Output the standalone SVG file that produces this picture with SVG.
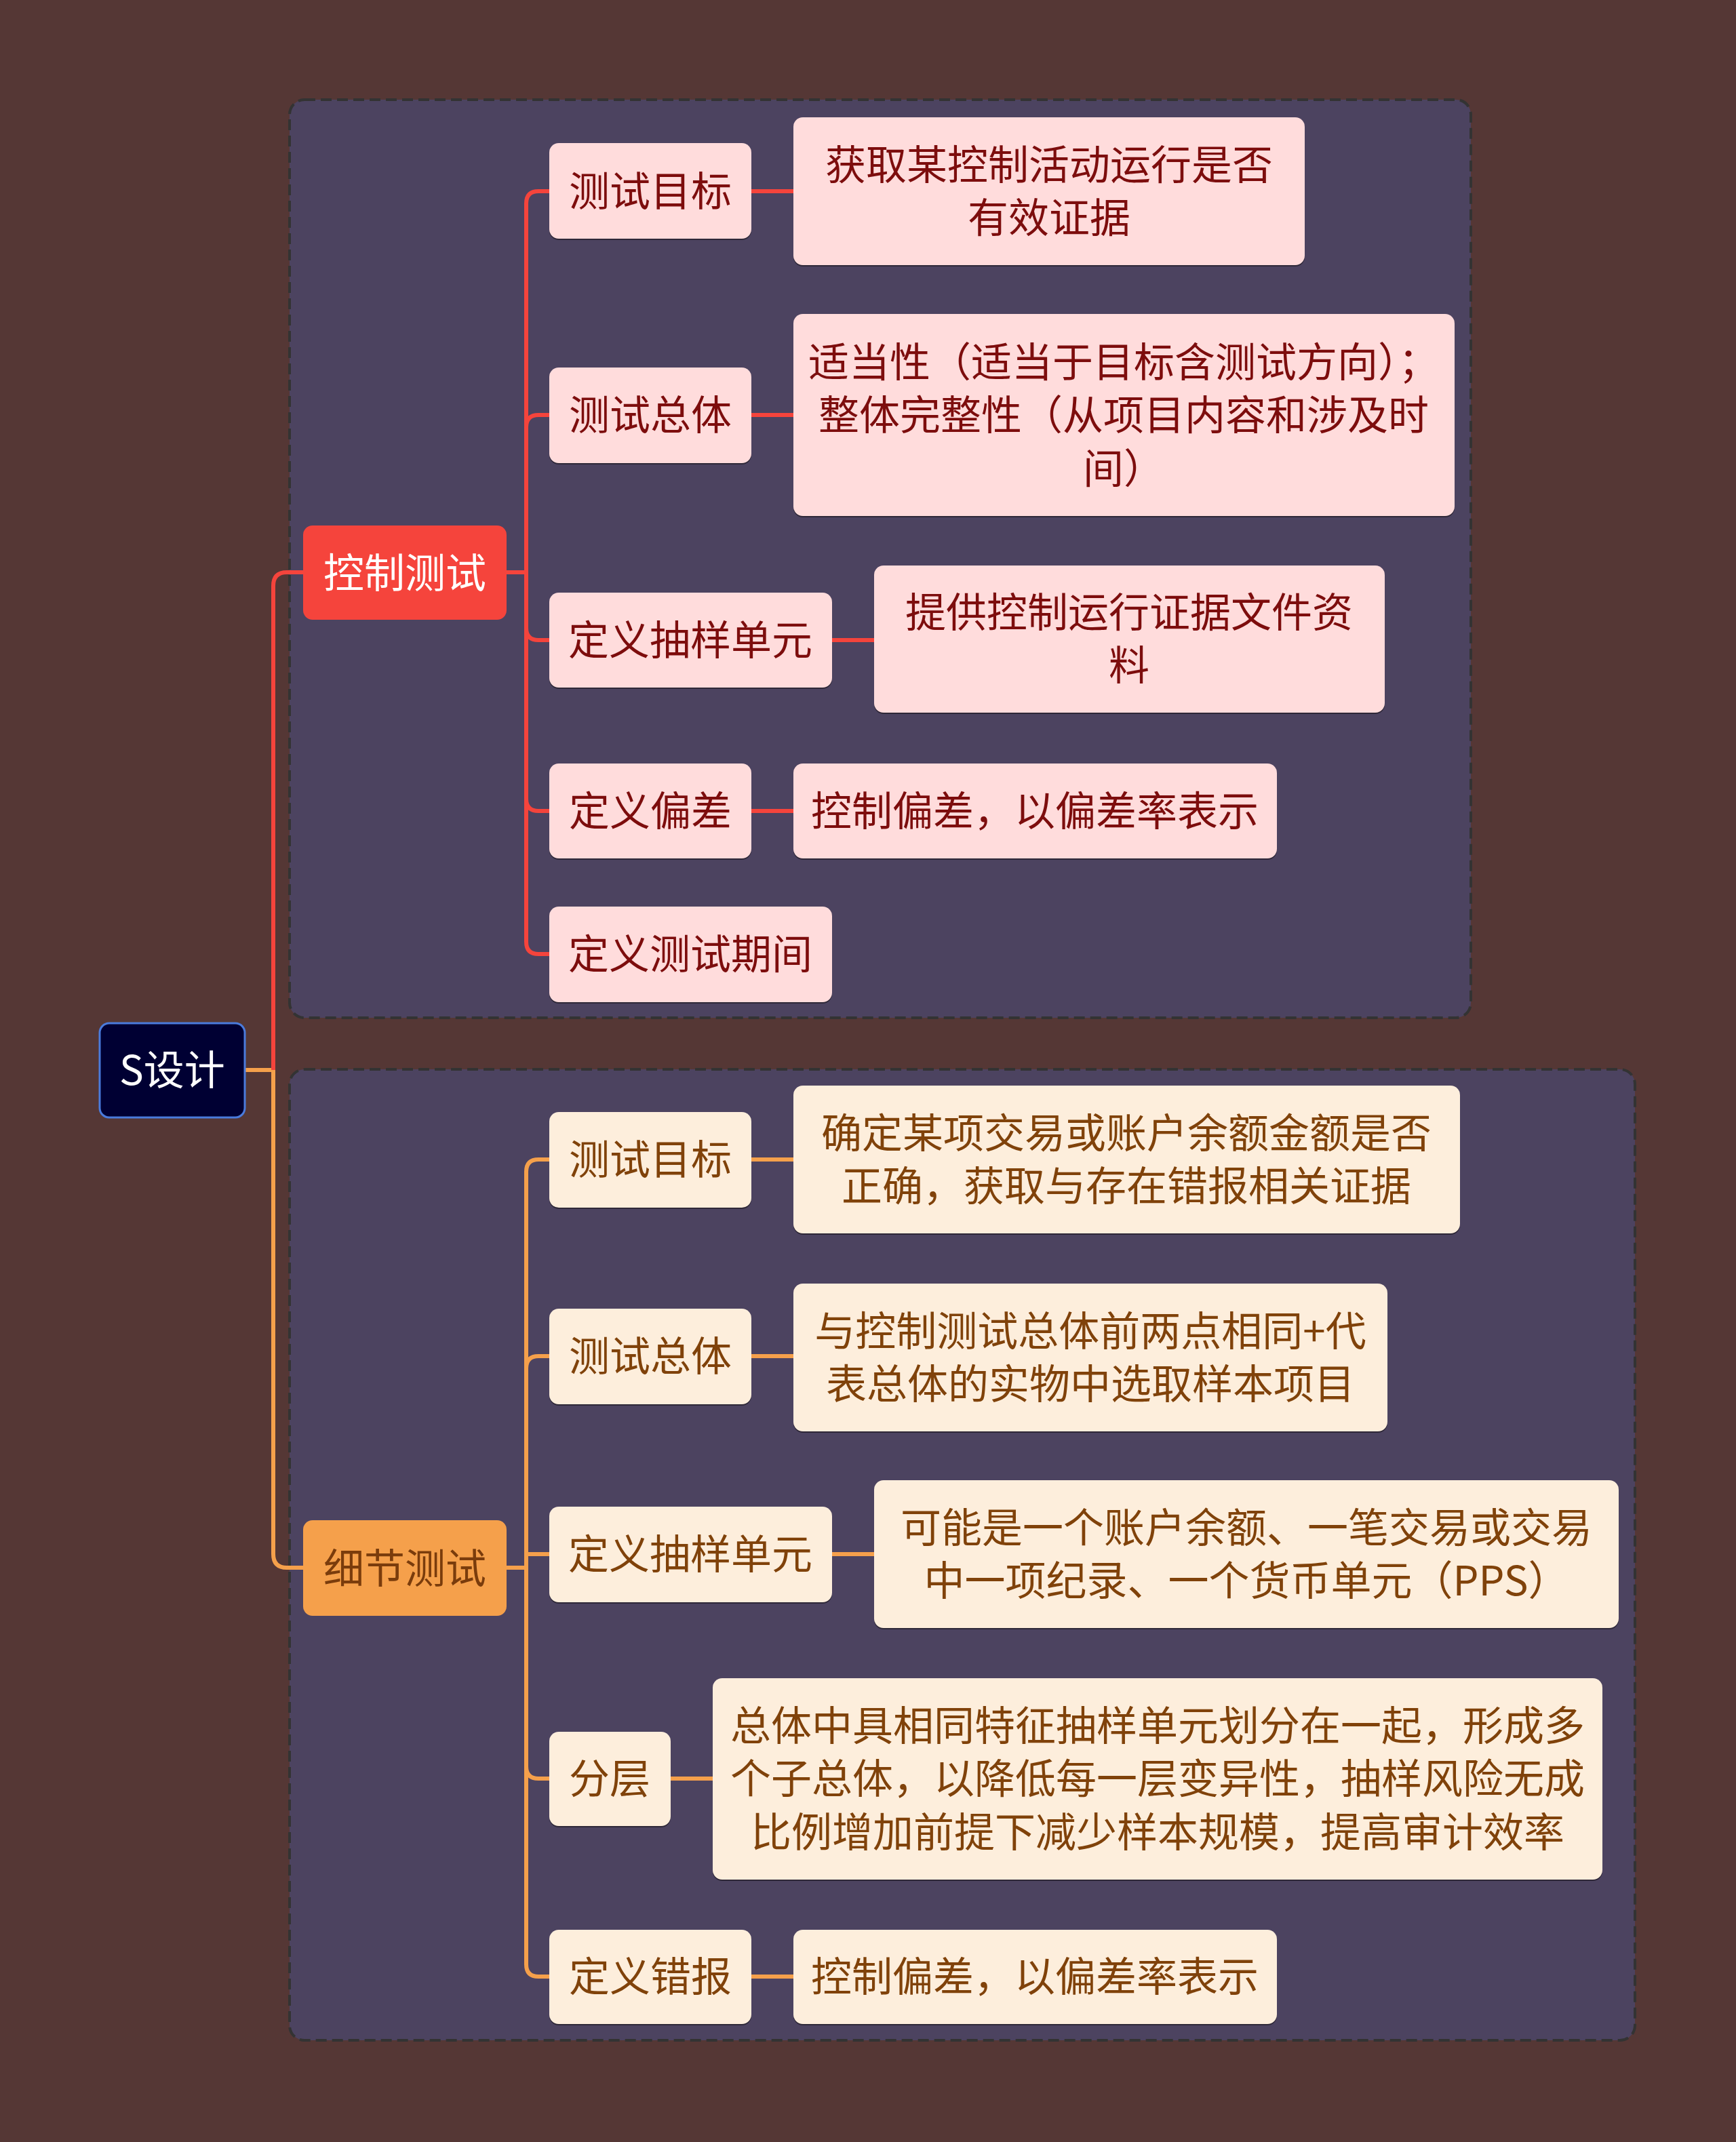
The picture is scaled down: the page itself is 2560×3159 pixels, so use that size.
<svg xmlns="http://www.w3.org/2000/svg" width="2560" height="3159" viewBox="0 0 2560 3159">
<style>
text{font-family:"Noto Sans CJK SC","Noto Sans",sans-serif;font-size:60px;text-anchor:middle}
.grp{fill:#4c4360;stroke:#333;stroke-width:4;stroke-dasharray:16 8}
.red{fill:none;stroke:#f5443c;stroke-width:6;stroke-linejoin:round}
.org{fill:none;stroke:#f5a04b;stroke-width:6;stroke-linejoin:round}
.sh{fill:#2e2838}
.rc{fill:#ffdcdc}
.rt{fill:#7d0d0d}
.oc{fill:#fdeedc}
.ot{fill:#80420a}
</style>
<rect x="0" y="0" width="2560" height="3159" fill="#553735"/>
<rect class="grp" x="427" y="147" width="1742" height="1354" rx="22"/>
<rect class="grp" x="427" y="1577" width="1984" height="1432" rx="22"/>
<g id="connectors">
<path class="org" d="M361,1578 H403 V2292 Q403,2312 423,2312 H447"/>
<path class="red" d="M403,1578 V864 Q403,844 423,844 H447"/>
<path class="red" d="M747,844 H776 V300 Q776,282 794,282 H810"/>
<path class="red" d="M776,844 V630 Q776,612 794,612 H810"/>
<path class="red" d="M776,844 V926 Q776,944 794,944 H810"/>
<path class="red" d="M776,844 V1178 Q776,1196 794,1196 H810"/>
<path class="red" d="M776,844 V1389 Q776,1407 794,1407 H810"/>
<path class="red" d="M1108,282 H1170"/>
<path class="red" d="M1108,612 H1170"/>
<path class="red" d="M1227,944 H1289"/>
<path class="red" d="M1108,1196 H1170"/>
<path class="org" d="M747,2312 H776 V1728 Q776,1710 794,1710 H810"/>
<path class="org" d="M776,2312 V2018 Q776,2000 794,2000 H810"/>
<path class="org" d="M776,2312 V2292 H810"/>
<path class="org" d="M776,2312 V2605 Q776,2623 794,2623 H810"/>
<path class="org" d="M776,2312 V2897 Q776,2915 794,2915 H810"/>
<path class="org" d="M1108,1710 H1170"/>
<path class="org" d="M1108,2000 H1170"/>
<path class="org" d="M1227,2292 H1289"/>
<path class="org" d="M989,2623 H1051"/>
<path class="org" d="M1108,2915 H1170"/>
</g>
<g id="root">
<rect x="147" y="1509" width="214" height="139" rx="14" fill="#000033" stroke="#4a7bdc" stroke-width="3"/>
<text x="254" y="1600" fill="#ffffff">S设计</text>
</g>
<g id="n-kzcs">
<rect x="447" y="775" width="300" height="139" rx="14" fill="#f5443c"/>
<text x="597" y="867" fill="#ffffff">控制测试</text>
</g>
<g id="n-xjcs">
<rect x="447" y="2242" width="300" height="141" rx="14" fill="#f5a04b"/>
<text x="597" y="2335" fill="#7a3c0c">细节测试</text>
</g>
<g id="t1"><rect class="sh" x="810" y="213" width="298" height="141" rx="14"/><rect class="rc" x="810" y="211" width="298" height="141" rx="14"/><text class="rt" x="959" y="304">测试目标</text></g>
<g id="t1d"><rect class="sh" x="1170" y="175" width="754" height="218" rx="14"/><rect class="rc" x="1170" y="173" width="754" height="218" rx="14"/><text class="rt" x="1547" y="265">获取某控制活动运行是否</text><text class="rt" x="1547" y="343">有效证据</text></g>
<g id="t2"><rect class="sh" x="810" y="544" width="298" height="141" rx="14"/><rect class="rc" x="810" y="542" width="298" height="141" rx="14"/><text class="rt" x="959" y="634">测试总体</text></g>
<g id="t2d"><rect class="sh" x="1170" y="465" width="975" height="298" rx="14"/><rect class="rc" x="1170" y="463" width="975" height="298" rx="14"/><text class="rt" x="1657" y="556">适当性（适当于目标含测试方向）；</text><text class="rt" x="1657" y="634">整体完整性（从项目内容和涉及时</text><text class="rt" x="1657" y="713">间）</text></g>
<g id="t3"><rect class="sh" x="810" y="876" width="417" height="140" rx="14"/><rect class="rc" x="810" y="874" width="417" height="140" rx="14"/><text class="rt" x="1018" y="966">定义抽样单元</text></g>
<g id="t3d"><rect class="sh" x="1289" y="836" width="753" height="217" rx="14"/><rect class="rc" x="1289" y="834" width="753" height="217" rx="14"/><text class="rt" x="1665" y="925">提供控制运行证据文件资</text><text class="rt" x="1665" y="1003">料</text></g>
<g id="t4"><rect class="sh" x="810" y="1128" width="298" height="140" rx="14"/><rect class="rc" x="810" y="1126" width="298" height="140" rx="14"/><text class="rt" x="959" y="1218">定义偏差</text></g>
<g id="t4d"><rect class="sh" x="1170" y="1128" width="713" height="140" rx="14"/><rect class="rc" x="1170" y="1126" width="713" height="140" rx="14"/><text class="rt" x="1526" y="1218">控制偏差，以偏差率表示</text></g>
<g id="t5"><rect class="sh" x="810" y="1339" width="417" height="141" rx="14"/><rect class="rc" x="810" y="1337" width="417" height="141" rx="14"/><text class="rt" x="1018" y="1429">定义测试期间</text></g>
<g id="b1"><rect class="sh" x="810" y="1642" width="298" height="141" rx="14"/><rect class="oc" x="810" y="1640" width="298" height="141" rx="14"/><text class="ot" x="959" y="1732">测试目标</text></g>
<g id="b1d"><rect class="sh" x="1170" y="1603" width="983" height="218" rx="14"/><rect class="oc" x="1170" y="1601" width="983" height="218" rx="14"/><text class="ot" x="1661" y="1693">确定某项交易或账户余额金额是否</text><text class="ot" x="1661" y="1771">正确，获取与存在错报相关证据</text></g>
<g id="b2"><rect class="sh" x="810" y="1932" width="298" height="141" rx="14"/><rect class="oc" x="810" y="1930" width="298" height="141" rx="14"/><text class="ot" x="959" y="2022">测试总体</text></g>
<g id="b2d"><rect class="sh" x="1170" y="1895" width="876" height="218" rx="14"/><rect class="oc" x="1170" y="1893" width="876" height="218" rx="14"/><text class="ot" x="1608" y="1985">与控制测试总体前两点相同+代</text><text class="ot" x="1608" y="2063">表总体的实物中选取样本项目</text></g>
<g id="b3"><rect class="sh" x="810" y="2224" width="417" height="141" rx="14"/><rect class="oc" x="810" y="2222" width="417" height="141" rx="14"/><text class="ot" x="1018" y="2314">定义抽样单元</text></g>
<g id="b3d"><rect class="sh" x="1289" y="2185" width="1098" height="218" rx="14"/><rect class="oc" x="1289" y="2183" width="1098" height="218" rx="14"/><text class="ot" x="1838" y="2275">可能是一个账户余额、一笔交易或交易</text><text class="ot" x="1838" y="2353">中一项纪录、一个货币单元（PPS）</text></g>
<g id="b4"><rect class="sh" x="810" y="2556" width="179" height="139" rx="14"/><rect class="oc" x="810" y="2554" width="179" height="139" rx="14"/><text class="ot" x="899" y="2645">分层</text></g>
<g id="b4d"><rect class="sh" x="1051" y="2477" width="1312" height="297" rx="14"/><rect class="oc" x="1051" y="2475" width="1312" height="297" rx="14"/><text class="ot" x="1707" y="2567">总体中具相同特征抽样单元划分在一起，形成多</text><text class="ot" x="1707" y="2645">个子总体，以降低每一层变异性，抽样风险无成</text><text class="ot" x="1707" y="2724">比例增加前提下减少样本规模，提高审计效率</text></g>
<g id="b5"><rect class="sh" x="810" y="2848" width="298" height="139" rx="14"/><rect class="oc" x="810" y="2846" width="298" height="139" rx="14"/><text class="ot" x="959" y="2937">定义错报</text></g>
<g id="b5d"><rect class="sh" x="1170" y="2848" width="713" height="139" rx="14"/><rect class="oc" x="1170" y="2846" width="713" height="139" rx="14"/><text class="ot" x="1526" y="2937">控制偏差，以偏差率表示</text></g>
</svg>
